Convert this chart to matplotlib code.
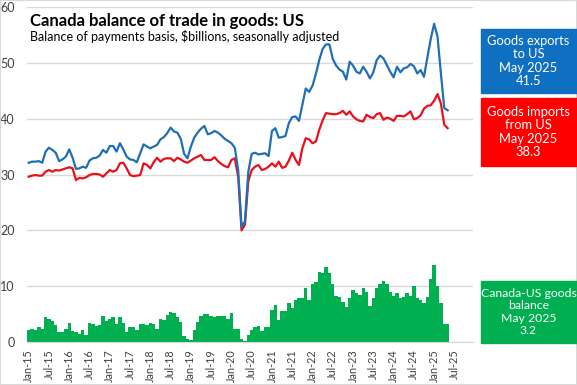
import numpy as np
import pandas as pd
import matplotlib
matplotlib.use('Agg')
import matplotlib.pyplot as plt
from matplotlib.patches import Rectangle

# Monthly, Jan 2015 - May 2025, $billions
exports = [
    32.1, 32.3, 32.3, 32.4, 32.1, 34.1, 34.8, 34.4, 33.9, 32.4, 32.7, 33.2,
    34.5, 33.0, 31.0, 31.1, 31.4, 31.2, 32.5, 32.9, 33.0, 33.4, 34.4, 33.9,
    35.1, 35.1, 34.1, 35.6, 34.5, 33.2, 32.7, 32.6, 32.2, 33.8, 35.4, 35.0,
    34.7, 35.0, 35.3, 36.3, 36.7, 37.4, 38.4, 37.7, 37.5, 36.4, 33.7, 32.9,
    35.0, 36.6, 37.5, 38.2, 38.7, 37.2, 37.4, 37.8, 37.5, 37.0, 36.4, 36.0,
    35.6, 34.8, 30.8, 20.6, 21.6, 30.5, 33.7, 33.9, 33.6, 33.7, 33.8, 33.3,
    37.8, 38.3, 36.6, 36.7, 36.9, 39.2, 40.3, 40.4, 39.6, 42.5, 45.4, 44.8,
    45.9, 48.0, 50.5, 52.5, 53.3, 53.3, 50.7, 49.5, 48.8, 48.4, 47.0, 50.2,
    49.5, 48.4, 48.1, 49.3, 48.4, 47.2, 48.3, 50.5, 51.3, 50.8, 49.6, 48.4,
    47.4, 49.3, 48.3, 49.0, 49.2, 49.8, 49.4, 48.1, 48.7, 47.5, 51.0, 54.3,
    57.0, 54.7, 48.1, 41.9, 41.5,
]
imports = [
    29.6, 29.8, 29.9, 29.8, 29.8, 30.5, 30.8, 30.5, 30.8, 30.7, 30.9, 31.1,
    31.3, 31.1, 29.0, 29.4, 29.3, 29.5, 29.9, 30.1, 30.1, 30.0, 29.6, 30.2,
    30.8, 30.5, 30.8, 32.0, 32.1, 31.1, 29.9, 29.7, 29.8, 29.9, 32.0, 31.7,
    31.1, 32.2, 33.0, 32.3, 32.8, 32.9, 32.9, 32.4, 33.0, 32.7, 32.3, 32.1,
    32.5, 32.9, 33.2, 33.5, 32.6, 32.6, 32.6, 33.1, 32.4, 31.9, 31.5, 31.3,
    32.6, 32.9, 29.6, 20.0, 21.0, 28.8, 30.8, 31.4, 31.7, 30.8, 31.0, 31.4,
    32.0, 31.4, 32.3, 31.2, 31.4, 32.5, 33.9, 32.6, 31.7, 34.7, 36.5, 36.3,
    35.6, 35.9, 38.0, 39.7, 41.0, 40.9, 40.8, 40.8, 41.0, 41.4, 40.7, 41.3,
    40.4, 39.9, 39.6, 39.5, 40.7, 40.3, 40.1, 40.8, 41.0, 39.8, 40.2, 40.0,
    39.6, 40.5, 40.5, 40.4, 40.8, 41.3, 39.9, 40.1, 40.6, 41.8, 42.3, 42.4,
    43.2, 44.4, 42.7, 38.9, 38.3,
]
balance = [
    2.1, 2.4, 2.2, 2.6, 2.3, 4.4, 4.2, 3.8, 3.0, 1.8, 1.8, 2.3,
    3.4, 1.9, 1.8, 1.5, 2.1, 1.3, 3.4, 3.2, 2.8, 3.0, 4.6, 3.8,
    4.2, 4.5, 3.3, 4.5, 3.4, 1.8, 2.7, 2.6, 2.1, 3.2, 3.2, 3.1,
    3.4, 3.3, 2.4, 4.2, 4.0, 4.8, 5.4, 5.2, 4.5, 3.6, 1.0, 0.6,
    0.4, 2.1, 3.6, 4.7, 5.1, 5.1, 4.6, 4.5, 4.6, 4.6, 4.6, 4.2,
    5.2, 2.4, 2.4, 0.6, 0.2, 1.2, 2.1, 2.6, 2.8, 1.9, 2.7, 2.6,
    5.7, 6.7, 3.9, 5.5, 5.5, 6.9, 6.1, 7.6, 7.9, 7.9, 9.7, 7.5,
    10.4, 10.7, 12.5, 12.4, 13.4, 12.4, 10.4, 8.2, 8.1, 7.2, 6.3, 7.9,
    9.3, 8.8, 8.5, 9.6, 9.0, 6.4, 7.8, 9.7, 10.3, 10.9, 10.3, 9.0,
    8.2, 8.7, 7.9, 8.1, 8.7, 8.2, 10.1, 7.8, 7.6, 6.9, 8.1, 11.2,
    13.8, 10.1, 7.0, 3.2, 3.2,
]

# category axis runs to Dec 2025
months = pd.date_range('2015-01-01', '2025-12-01', freq='MS')
tick_pos = list(range(0, 127, 6))
tick_labels = [months[i].strftime('%b-%y') for i in tick_pos]

BLUE = '#1f6fb6'
BLUE_BOX = '#0f6fc0'
RED = '#e8101a'
RED_BOX = '#ff0000'
GREEN = '#00b050'
GRID = '#d9d9d9'

plt.rcParams['font.family'] = ['Lato', 'DejaVu Sans']

W, H = 577, 385
fig = plt.figure(figsize=(W / 100, H / 100), dpi=100)

def px(x, y):
    return x / W, 1 - y / H

ax = fig.add_axes([27 / W, (H - 342) / H, 446 / W, 335 / H])
x = np.arange(len(exports))

ax.bar(x, balance, width=1.0, color=GREEN, zorder=2)
ax.plot(x, imports, color=RED, linewidth=1.6, zorder=3)
ax.plot(x, exports, color=BLUE, linewidth=1.6, zorder=4)

ax.set_xlim(-0.5, len(months) - 0.5)
ax.set_ylim(0, 60)
ax.set_yticks(range(0, 61, 10))
ax.yaxis.grid(True, color=GRID, linewidth=1, zorder=0)
ax.set_axisbelow(True)
for s in ['top', 'right', 'left']:
    ax.spines[s].set_visible(False)
ax.spines['bottom'].set_color(GRID)
ax.tick_params(axis='y', length=0, pad=9, labelsize=9, labelcolor='#404040')
ax.set_xticks(tick_pos)
ax.set_xticklabels(tick_labels, rotation=90, fontsize=7.8, color='#404040')
ax.tick_params(axis='x', length=0, pad=5)

fig.text(*px(30, 26), 'Canada balance of trade in goods: US', fontsize=12,
         fontweight='bold', color='black', va='baseline')
fig.text(*px(30, 41), 'Balance of payments basis, $billions, seasonally adjusted',
         fontsize=9, color='black', va='baseline')

def box(y0, y1, color, text, size=9.3):
    fig.patches.append(Rectangle(px(481, y1), 96 / W, (y1 - y0) / H,
                                 transform=fig.transFigure, color=color, zorder=5))
    fig.text(*px(528.5, (y0 + y1) / 2), text, ha='center', va='center',
             color='white', fontsize=size, linespacing=1.15, zorder=6)

box(29, 93, BLUE_BOX, 'Goods exports\nto US\nMay 2025\n%.1f' % exports[-1])
box(98, 166, RED_BOX, 'Goods imports\nfrom US\nMay 2025\n%.1f' % imports[-1])
box(281, 343, GREEN, 'Canada-US goods\nbalance\nMay 2025\n%.1f' % balance[-1],
    size=8.8)

fig.patches.append(Rectangle((0, 0), 1, 1, transform=fig.transFigure,
                             fill=False, edgecolor=GRID, linewidth=1.5))

fig.savefig('out.png', dpi=100)
